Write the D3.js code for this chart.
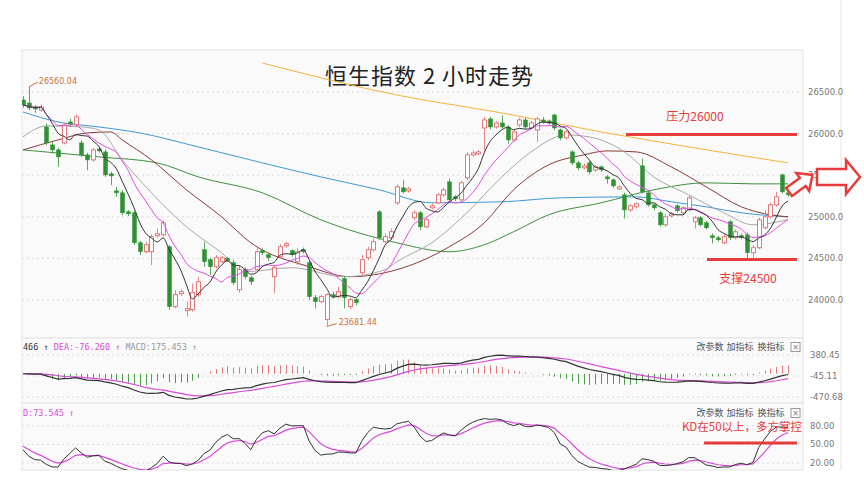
<!DOCTYPE html>
<html><head><meta charset="utf-8">
<script src="https://cdn.jsdelivr.net/npm/d3@7"></script>
<style>body{margin:0;background:#fff}svg{display:block}</style>
</head><body><svg id="c" width="864" height="501"></svg>
<script>
const openP=[26404,26368,26320,26284,26080,25864,25804,25888,26140,26104,25888,25744,25684,25816,25780,25516,25312,25288,25060,25048,24688,24580,24580,24772,24784,24640,23920,24076,23872,23884,24064,24604,24484,24400,24460,24500,24448,24124,24364,24268,24364,24592,24544,24280,24520,24652,24592,24460,24604,24448,24028,23980,23764,24064,24040,24256,23920,24004,24328,24508,24604,25060,24700,24748,25168,25348,25312,24988,25048,24880,25108,25168,25264,25420,25240,25204,25468,25744,25756,26068,26176,26080,26128,26080,25924,26104,26164,26068,26044,26164,26152,26224,26044,25948,25780,25648,25588,25648,25564,25600,25480,25444,25336,25264,25084,25120,25612,25288,25144,25048,24904,25012,25132,25048,25084,24940,24988,24928,24772,24748,24688,24940,24748,24772,24784,24568,24628,24868,25000,25144,25504,25288];
const closeP=[26344,26308,26296,26320,25888,25804,25720,26104,26116,26200,25744,25684,25804,25792,25504,25492,25288,25048,25036,24688,24580,24664,24760,24796,24928,23920,24064,24100,23896,24088,24220,24460,24400,24508,24508,24476,24208,24364,24280,24220,24580,24568,24508,24388,24640,24676,24544,24580,24580,24040,23980,24040,24064,24040,24100,24028,24004,23968,24484,24604,24700,24748,24760,24820,25360,25300,25336,25048,24880,24964,25132,25264,25324,25204,25216,25408,25744,25768,25780,26164,26080,26128,26080,25924,26020,26164,26080,26128,26176,26140,26128,26068,25948,26020,25648,25588,25612,25540,25600,25564,25456,25372,25360,25084,25132,25156,25300,25144,25108,24904,25000,25036,25072,25108,25228,24988,24904,24868,24748,24724,24760,24748,24820,24748,24568,24628,24964,25000,25144,25240,25300,25264];
const highP=[26450,26560,26340,26350,26120,25900,25830,26130,26180,26230,25920,25770,25830,25840,25810,25540,25360,25320,25080,25070,24710,24700,24790,24860,24960,24660,24120,24130,23980,24200,24280,24700,24510,24540,24530,24520,24480,24420,24390,24290,24620,24620,24560,24420,24670,24700,24610,24620,24630,24470,24060,24060,24080,24100,24160,24290,24030,24020,24540,24640,24740,25080,24800,24860,25390,25440,25360,25080,25070,24990,25160,25290,25350,25460,25260,25430,25780,25800,25800,26200,26200,26150,26220,26100,26050,26190,26190,26150,26200,26200,26170,26240,26060,26040,25800,25670,25640,25670,25620,25620,25500,25460,25380,25290,25150,25170,25700,25310,25160,25070,25030,25060,25150,25130,25250,25010,25010,24950,24800,24770,24790,24960,24850,24800,24810,24660,24990,25080,25170,25300,25520,25330];
const lowP=[26310,26280,26250,26260,25860,25760,25600,25870,26090,26080,25720,25560,25660,25770,25480,25380,25240,25020,25010,24660,24540,24560,24420,24750,24760,23880,23900,24050,23800,23860,24040,24400,24300,24380,24440,24460,24180,24090,24250,24180,24340,24540,24470,24080,24500,24630,24520,24420,24560,24000,23900,23960,23681,24020,24020,23900,23890,23940,24300,24480,24580,24720,24680,24720,25140,25280,25290,24960,24840,24860,25090,25150,25240,25180,25190,25180,25440,25720,25740,25800,26050,26060,26060,25880,25900,26080,26060,26050,25900,26120,26110,26040,25920,25930,25620,25560,25570,25510,25540,25540,25400,25350,25320,24980,25060,25100,25280,25120,25080,24880,24880,24990,25050,25030,25060,24860,24880,24850,24680,24700,24670,24720,24730,24730,24500,24500,24610,24850,24980,25120,25280,25240];
// longer moving averages: [candle index, value]
const ma20=[[0,25960],[4,26092],[10,26080],[13,26044],[17,25684],[22,25288],[28,24880],[34,24568],[38,24340],[46,24388],[55,24280],[62,24364],[64,24460],[70,24688],[76,25048],[82,25480],[87,25780],[93,25984],[97,25960],[103,25780],[108,25480],[114,25264],[120,25048],[125,24904],[131,24964]];
const ma30=[[0,25804],[6,25924],[11,26008],[15,26020],[17,25924],[22,25684],[28,25324],[34,25000],[39,24688],[49,24400],[56,24280],[64,24364],[73,24640],[79,24928],[84,25324],[90,25624],[96,25744],[100,25792],[105,25780],[111,25600],[117,25360],[123,25120],[128,25024],[131,25000]];
const ma60=[[0,25804],[13,25720],[23,25648],[30,25480],[41,25288],[51,24964],[64,24688],[73,24580],[79,24664],[84,24820],[90,25024],[99,25168],[108,25324],[117,25408],[125,25396],[131,25396]];
const ma120=[[0,26260],[6,26140],[13,26080],[20,26008],[30,25840],[41,25648],[51,25480],[61,25324],[70,25168],[82,25180],[92,25228],[105,25240],[111,25180],[117,25120],[123,25048],[131,25000]];
const ma250=[[41,26848],[64,26464],[82,26248],[99,26020],[114,25840],[131,25648]];
const priceTicks=[24000,24500,25000,25500,26000,26500];
const macdTicks=[380.45,-45.11,-470.68];
const kdTicks=[80,50,20];

const svg=d3.select("#c");
const X0=22,X1=803;
const x=d3.scaleLinear().domain([0,131]).range([23,788]);
const y=d3.scaleLinear().domain([24000,26500]).range([300,92]);
const n=closeP.length;

// panels
[[50,338],[338,403],[403,470]].forEach(([a,b])=>{
  svg.append("rect").attr("x",X0).attr("y",a).attr("width",X1-X0).attr("height",b-a).attr("fill","#fafafa").attr("stroke","#e4e4e4");
});
svg.append("line").attr("x1",841).attr("x2",841).attr("y1",0).attr("y2",470).attr("stroke","#e4e4e4");
const defs=svg.append("defs");
defs.append("clipPath").attr("id","cm").append("rect").attr("x",X0).attr("y",50).attr("width",X1-X0).attr("height",288);
defs.append("clipPath").attr("id","cd").append("rect").attr("x",X0).attr("y",338).attr("width",X1-X0).attr("height",65);
defs.append("clipPath").attr("id","ck").append("rect").attr("x",X0).attr("y",403).attr("width",X1-X0).attr("height",67);

const axTxt=(g,xx,yy,t)=>g.append("text").attr("x",xx).attr("y",yy).attr("dy","0.35em").attr("font-family","DejaVu Sans").attr("font-size",8.5).attr("fill","#777").text(t);

const gm=svg.append("g");
priceTicks.forEach(t=>{
  gm.append("line").attr("x1",X0).attr("x2",X1).attr("y1",y(t)).attr("y2",y(t)).attr("stroke","#ddd").attr("stroke-dasharray","2,3");
  axTxt(gm,808,y(t),t.toFixed(1));
});
gm.append("text").attr("x",325).attr("y",76).attr("dy","0.35em").attr("font-family","Noto Sans CJK SC").attr("font-size",22).attr("fill","#222").attr("textLength",208).text("恒生指数 2 小时走势");

const gc=svg.append("g").attr("clip-path","url(#cm)");
const sma=(p)=>closeP.map((c,i)=>{const s=closeP.slice(Math.max(0,i-p+1),i+1);return d3.mean(s);});
const ma5=sma(5),ma10=sma(10);
const lineS=d3.line().x(d=>x(d[0])).y(d=>y(d[1])).curve(d3.curveMonotoneX);
[[ma250,"#f2b53c"],[ma120,"#3d9ad6"],[ma60,"#3f8f3f"],[ma30,"#8a3b3b"],[ma20,"#a8a8a8"]].forEach(([d,c])=>{
  gc.append("path").attr("d",lineS(d)).attr("fill","none").attr("stroke",c).attr("stroke-width",1);
});
// candles
for(let i=0;i<n;i++){
  const up=closeP[i]>=openP[i];
  const col=up?"#e06a6a":"#2f9134";
  const cx=Math.round(x(i))+0.5;
  gc.append("line").attr("x1",cx).attr("x2",cx).attr("y1",y(highP[i])).attr("y2",y(lowP[i])).attr("stroke",up?"#e58a8a":"#5aa85a");
  const top=y(Math.max(openP[i],closeP[i])),bot=y(Math.min(openP[i],closeP[i]));
  gc.append("rect").attr("x",cx-2).attr("y",top).attr("width",4).attr("height",Math.max(1,bot-top)).attr("fill",up?"#fff":col).attr("stroke",col).attr("stroke-width",up?0.9:0.5);
}
const lineI=d3.line().x((d,i)=>x(i)).y(d=>y(d)).curve(d3.curveMonotoneX);
gc.append("path").attr("d",lineI(ma10)).attr("fill","none").attr("stroke","#e04ee0").attr("stroke-width",1);
gc.append("path").attr("d",lineI(ma5)).attr("fill","none").attr("stroke","#333").attr("stroke-width",1);

// high/low markers
const hiI=d3.maxIndex(highP),loI=d3.minIndex(lowP);
const ann="#c8743c";
gm.append("line").attr("x1",x(hiI)).attr("y1",y(highP[hiI])).attr("x2",x(hiI)+9).attr("y2",y(highP[hiI])-5).attr("stroke",ann);
gm.append("text").attr("x",x(hiI)+10).attr("y",y(highP[hiI])-6).attr("dy","0.35em").attr("font-family","DejaVu Sans").attr("font-size",8).attr("fill",ann).text(highP[hiI].toFixed(2).replace("26560.00","26560.04"));
gm.append("line").attr("x1",x(loI)).attr("y1",y(lowP[loI])).attr("x2",x(loI)+10).attr("y2",y(lowP[loI])-3).attr("stroke",ann);
gm.append("text").attr("x",x(loI)+12).attr("y",y(lowP[loI])-4).attr("dy","0.35em").attr("font-family","DejaVu Sans").attr("font-size",8).attr("fill",ann).text("23681.44");

// red annotations
const red="#e63c3c";
gm.append("line").attr("x1",626).attr("x2",797).attr("y1",y(26000)+1).attr("y2",y(26000)+1).attr("stroke",red).attr("stroke-width",3);
gm.append("text").attr("x",695).attr("y",117).attr("dy","0.35em").attr("text-anchor","middle").attr("font-family","Noto Sans CJK SC").attr("font-size",12).attr("fill",red).text("压力26000");
gm.append("line").attr("x1",707).attr("x2",797).attr("y1",y(24500)+1).attr("y2",y(24500)+1).attr("stroke",red).attr("stroke-width",3);
gm.append("text").attr("x",748).attr("y",279).attr("dy","0.35em").attr("text-anchor","middle").attr("font-family","Noto Sans CJK SC").attr("font-size",12).attr("fill",red).text("支撑24500");
function blockArrow(L,h,w,H){return `M0,${-w}L${L-h},${-w}L${L-h},${-H}L${L},0L${L-h},${H}L${L-h},${w}L0,${w}Z`;}
svg.append("path").attr("d",blockArrow(43,14,8,17)).attr("transform","translate(817,177)").attr("fill","#fff").attr("stroke",red).attr("stroke-width",2.5);
svg.append("path").attr("d",blockArrow(29,12,5,11)).attr("transform","translate(789,192) rotate(-36)").attr("fill","#fff").attr("stroke",red).attr("stroke-width",2.5);

// MACD
const ema=(arr,p)=>{const k=2/(p+1);let e=arr[0];return arr.map(v=>e=e+k*(v-e));};
const e12=ema(closeP,12),e26=ema(closeP,26);
const dif=e12.map((v,i)=>v-e26[i]);
const dea=ema(dif,9);
const hist=dif.map((v,i)=>2*(v-dea[i]));
const ym=d3.scaleLinear().domain([-470.68,380.45]).range([397,355]);
const gd=svg.append("g");
macdTicks.forEach(t=>{gd.append("line").attr("x1",X0).attr("x2",X1).attr("y1",ym(t)).attr("y2",ym(t)).attr("stroke","#ddd").attr("stroke-dasharray","2,3");axTxt(gd,810,ym(t),t.toFixed(2));});
const gdc=gd.append("g").attr("clip-path","url(#cd)");
hist.forEach((h,i)=>{gdc.append("line").attr("x1",Math.round(x(i))+0.5).attr("x2",Math.round(x(i))+0.5).attr("y1",ym(0)).attr("y2",ym(h)).attr("stroke",h>=0?"#e07a7a":"#4e9e4e");});
const lm=d3.line().x((d,i)=>x(i)).y(d=>ym(d));
gdc.append("path").attr("d",lm(dea)).attr("fill","none").attr("stroke","#d94ad9").attr("stroke-width",1.2);
gdc.append("path").attr("d",lm(dif)).attr("fill","none").attr("stroke","#333").attr("stroke-width",1.2);
const hdr=(g,yy,parts)=>{const t=g.append("text").attr("x",23).attr("y",yy).attr("dy","0.35em").attr("font-family","DejaVu Sans Mono").attr("font-size",8.5);parts.forEach(([s,c])=>t.append("tspan").attr("fill",c).text(s));};
hdr(gd,347,[["466 ↑ ","#333"],["DEA:-76.260 ↑ ","#d94ad9"],["MACD:175.453 ↑","#999"]]);
const tools=(g,yy)=>{
  [["改参数",710],["加指标",740],["换指标",771]].forEach(([s,xx])=>g.append("text").attr("x",xx).attr("y",yy).attr("dy","0.35em").attr("text-anchor","middle").attr("font-family","Noto Sans CJK SC").attr("font-size",9).attr("fill","#555").text(s));
  g.append("rect").attr("x",791).attr("y",yy-4.5).attr("width",9).attr("height",9).attr("fill","#fff").attr("stroke","#999");
  g.append("text").attr("x",795.5).attr("y",yy).attr("dy","0.35em").attr("text-anchor","middle").attr("font-family","DejaVu Sans").attr("font-size",8).attr("fill","#777").text("×");
};
tools(gd,347);

// KD
const K=[],D=[];let k=50,dd=50;
for(let i=0;i<n;i++){const lo=d3.min(lowP.slice(Math.max(0,i-8),i+1)),hi=d3.max(highP.slice(Math.max(0,i-8),i+1));const rsv=hi>lo?(closeP[i]-lo)/(hi-lo)*100:50;k=2/3*k+rsv/3;dd=2/3*dd+k/3;K.push(k);D.push(dd);}
const yk=d3.scaleLinear().domain([20,80]).range([463,426]);
const gk=svg.append("g");
kdTicks.forEach(t=>{gk.append("line").attr("x1",X0).attr("x2",X1).attr("y1",yk(t)).attr("y2",yk(t)).attr("stroke","#ddd").attr("stroke-dasharray","2,3");axTxt(gk,810,yk(t),t.toFixed(2));});
const gkc=gk.append("g").attr("clip-path","url(#ck)");
const lk=d3.line().x((d,i)=>x(i)).y(d=>yk(d));
gkc.append("path").attr("d",lk(D)).attr("fill","none").attr("stroke","#d94ad9").attr("stroke-width",1.2);
gkc.append("path").attr("d",lk(K)).attr("fill","none").attr("stroke","#333").attr("stroke-width",1);
hdr(gk,413,[["D:73.545 ↑","#d94ad9"]]);
tools(gk,413);
gk.append("text").attr("x",742).attr("y",427).attr("dy","0.35em").attr("text-anchor","middle").attr("font-family","Noto Sans CJK SC").attr("font-size",11.5).attr("fill",red).text("KD在50以上，多方掌控");
gk.append("line").attr("x1",704).attr("x2",797).attr("y1",443).attr("y2",443).attr("stroke",red).attr("stroke-width",3);
</script></body></html>
